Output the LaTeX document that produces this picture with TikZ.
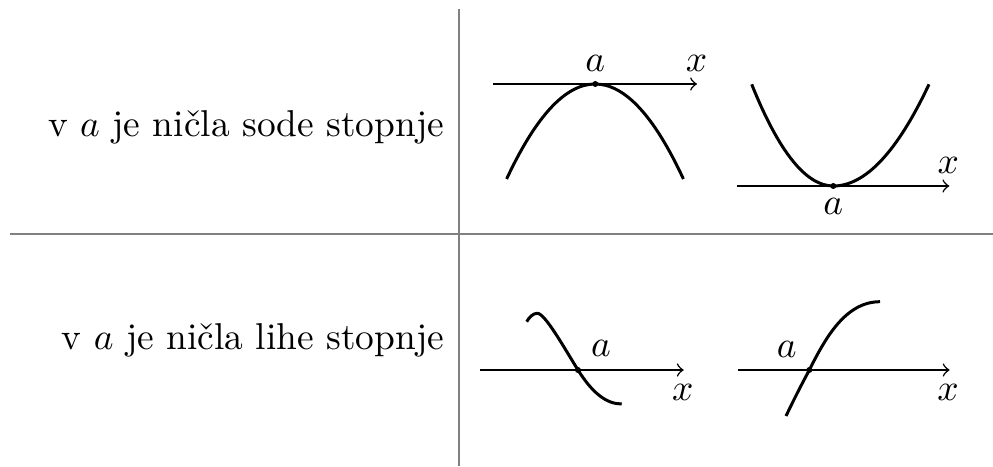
\documentclass[tikz,border=0pt]{standalone}
\usepackage{fontspec}
\begin{document}
\begin{tikzpicture}[x=0.2674pt,y=-0.2674pt,
  rule/.style={draw=black!50, line width=0.6pt},
  axis/.style={->, line width=0.4pt},
  graph/.style={line width=0.8pt},
  zero/.style={circle, fill=black, inner sep=0pt, minimum size=1.6pt},
  lbl/.style={inner sep=0pt}]
\useasboundingbox (0,0) rectangle (993,466);
% table rules
\coordinate (vtop) at (459,9.3);
\coordinate (vbot) at (459,466);
\coordinate (hl) at (10,234);
\coordinate (hr) at (993,234);
\draw[rule] (vtop) -- (vbot);
\draw[rule] (hl) -- (hr);
% row texts
\node[anchor=base east, inner sep=0pt] (t1) at (445,136.7) {v $a$ je ničla sode stopnje};
\node[anchor=base east, inner sep=0pt] (t2) at (445,349.3) {v $a$ je ničla lihe stopnje};
% graph 1
\coordinate (s1) at (493,84);
\coordinate (e1) at (697,84);
\draw[axis] (s1) -- (e1);
\draw[graph] (506.6,179) .. controls (565.73,52.33) and (624.67,52.33) .. (683.4,179);
\node[zero] (z1) at (595.3,84) {};
\node[lbl] (a1) at (595.3,63) {$a$};
\node[lbl] (x1) at (696.5,63) {$x$};
% graph 2
\coordinate (s2) at (737.3,186);
\coordinate (e2) at (949.3,186);
\draw[axis] (s2) -- (e2);
\draw[graph] (751.7,84.3) .. controls (778.9,152.1) and (806.1,186) .. (833.3,186)
  .. controls (865.2,186) and (897.1,152.1) .. (929,84.3);
\node[zero] (z2) at (833.3,186) {};
\node[lbl] (a2) at (833.3,206.7) {$a$};
\node[lbl] (x2) at (948.3,165) {$x$};
% graph 3
\coordinate (s3) at (479.7,370);
\coordinate (e3) at (683.7,370);
\draw[axis] (s3) -- (e3);
\draw[graph] (526.7,321.7) .. controls (529.5,317) and (533,313.3) .. (537.3,313.3)
  .. controls (545,313.3) and (564,347.6) .. (578,370)
  .. controls (592,392.4) and (606,404) .. (621.7,404);
\node[zero] (z3) at (578,370) {};
\node[lbl] (a3) at (601,348.3) {$a$};
\node[lbl] (x3) at (682.7,392.7) {$x$};
% graph 4
\coordinate (s4) at (738,370);
\coordinate (e4) at (949.6,370);
\draw[axis] (s4) -- (e4);
\draw[graph] (786,416) .. controls (797,393) and (803,382) .. (809.3,370)
  .. controls (825,339) and (845,301.7) .. (880,301.7);
\node[zero] (z4) at (809.3,370) {};
\node[lbl] (a4) at (786.7,349) {$a$};
\node[lbl] (x4) at (948,392.7) {$x$};
\end{tikzpicture}
\end{document}
